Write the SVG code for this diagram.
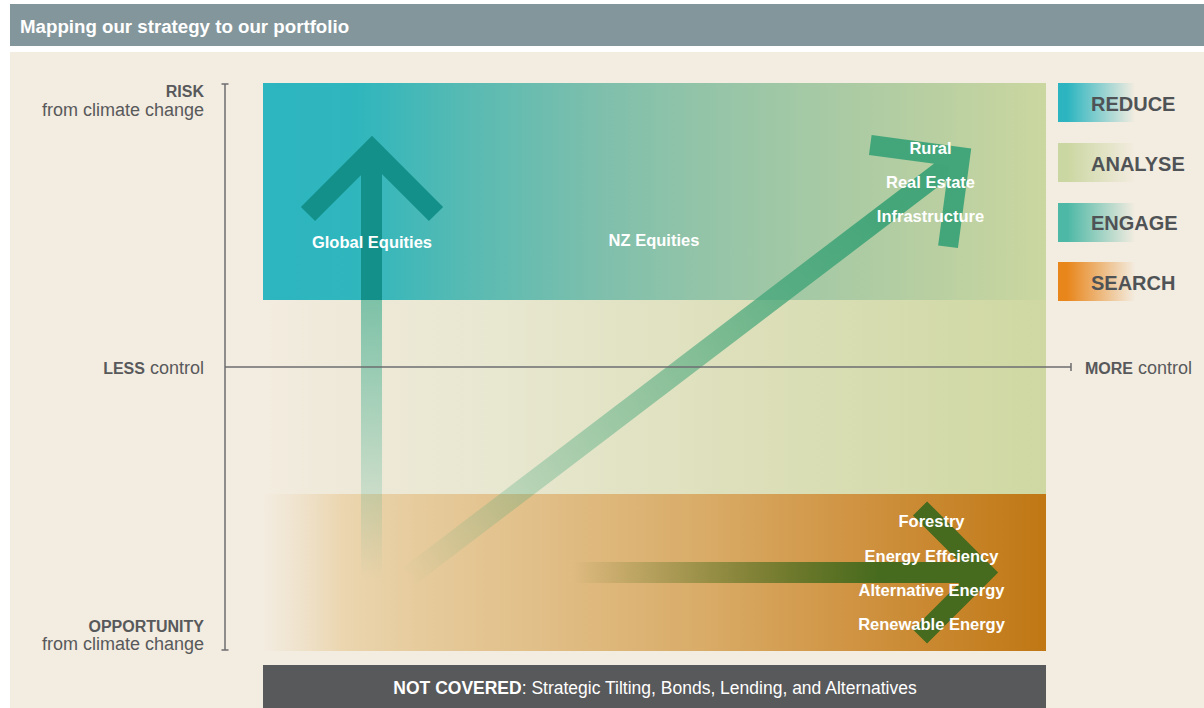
<svg xmlns="http://www.w3.org/2000/svg" width="1204" height="708" viewBox="0 0 1204 708">
  <style>
    .t { font-family: "Liberation Sans", Arial, sans-serif; }
    .w { fill: #ffffff; font-weight: bold; font-size: 16.5px; text-anchor: middle; }
    .lab { fill: #58595b; font-size: 18px; text-anchor: end; }
    .bl { font-weight: bold; font-size: 16px; }
    .b { font-weight: bold; }
    .leg { fill: #4f5356; font-weight: bold; font-size: 20px; }
    .axis { stroke: #6d6e70; stroke-width: 1.5; fill: none; }
  </style>
  <defs>
    <linearGradient id="gTop" x1="0" y1="0" x2="1" y2="0">
      <stop offset="0" stop-color="#2db5c0"/>
      <stop offset="0.12" stop-color="#2fb6bd"/>
      <stop offset="0.25" stop-color="#55bab3"/>
      <stop offset="0.43" stop-color="#7ebfac"/>
      <stop offset="0.56" stop-color="#93c4a8"/>
      <stop offset="0.86" stop-color="#b9cfa1"/>
      <stop offset="1" stop-color="#cbd7a0"/>
    </linearGradient>
    <linearGradient id="gMid" x1="0" y1="0" x2="1" y2="0">
      <stop offset="0" stop-color="#f3ece0"/>
      <stop offset="0.11" stop-color="#eee9d8"/>
      <stop offset="0.3" stop-color="#e8e7d0"/>
      <stop offset="0.63" stop-color="#dcdfb9"/>
      <stop offset="1" stop-color="#cfd8a2"/>
    </linearGradient>
    <linearGradient id="gBot" x1="0" y1="0" x2="1" y2="0">
      <stop offset="0" stop-color="#f3ece0"/>
      <stop offset="0.05" stop-color="#efe2cb"/>
      <stop offset="0.1" stop-color="#ebd6b0"/>
      <stop offset="0.2" stop-color="#e6cb9c"/>
      <stop offset="0.35" stop-color="#e1bf88"/>
      <stop offset="0.56" stop-color="#d9ac68"/>
      <stop offset="0.75" stop-color="#d09443"/>
      <stop offset="1" stop-color="#c07714"/>
    </linearGradient>
    <linearGradient id="lReduce" x1="0" y1="0" x2="1" y2="0">
      <stop offset="0" stop-color="#2cb5c0"/>
      <stop offset="0.12" stop-color="#2cb5c0"/>
      <stop offset="1" stop-color="#2cb5c0" stop-opacity="0"/>
    </linearGradient>
    <linearGradient id="lAnalyse" x1="0" y1="0" x2="1" y2="0">
      <stop offset="0" stop-color="#cbd7a2"/>
      <stop offset="0.12" stop-color="#cbd7a2"/>
      <stop offset="1" stop-color="#cbd7a2" stop-opacity="0"/>
    </linearGradient>
    <linearGradient id="lEngage" x1="0" y1="0" x2="1" y2="0">
      <stop offset="0" stop-color="#4db8a6"/>
      <stop offset="0.12" stop-color="#4db8a6"/>
      <stop offset="1" stop-color="#4db8a6" stop-opacity="0"/>
    </linearGradient>
    <linearGradient id="lSearch" x1="0" y1="0" x2="1" y2="0">
      <stop offset="0" stop-color="#e8861c"/>
      <stop offset="0.12" stop-color="#e8861c"/>
      <stop offset="1" stop-color="#e8861c" stop-opacity="0"/>
    </linearGradient>
    <linearGradient id="gShaftV" gradientUnits="userSpaceOnUse" x1="0" y1="300" x2="0" y2="580">
      <stop offset="0" stop-color="#25a383" stop-opacity="0.56"/>
      <stop offset="1" stop-color="#25a383" stop-opacity="0"/>
    </linearGradient>
    <linearGradient id="gDiag" gradientUnits="userSpaceOnUse" x1="408" y1="577" x2="960" y2="157">
      <stop offset="0" stop-color="#40a478" stop-opacity="0"/>
      <stop offset="0.2" stop-color="#40a478" stop-opacity="0.27"/>
      <stop offset="0.5" stop-color="#40a478" stop-opacity="0.55"/>
      <stop offset="0.85" stop-color="#40a478" stop-opacity="0.95"/>
      <stop offset="1" stop-color="#40a478" stop-opacity="1"/>
    </linearGradient>
    <linearGradient id="gHor" gradientUnits="userSpaceOnUse" x1="572" y1="0" x2="880" y2="0">
      <stop offset="0" stop-color="#466b1e" stop-opacity="0"/>
      <stop offset="1" stop-color="#466b1e" stop-opacity="1"/>
    </linearGradient>
    <polyline id="chev" points="-64,64 0,0 64,64" fill="none" stroke-width="20" stroke-linejoin="miter" stroke-linecap="butt"/>
  </defs>

  <!-- background -->
  <rect x="0" y="0" width="1204" height="708" fill="#ffffff"/>
  <rect x="10" y="4" width="1194" height="42" fill="#83969b"/>
  <rect x="10" y="52" width="1194" height="656" fill="#f3ece0"/>
  <text class="t b" x="20" y="33" fill="#ffffff" font-size="18.7">Mapping our strategy to our portfolio</text>

  <!-- zones -->
  <g id="zones">
    <rect x="263" y="83" width="783" height="217" fill="url(#gTop)"/>
    <rect x="263" y="300" width="783" height="194" fill="url(#gMid)"/>
    <rect x="263" y="494" width="783" height="157" fill="url(#gBot)"/>
  </g>

  <!-- connectors (arrows) -->
  <g id="connectors">
    <rect x="361" y="150" width="21" height="150" fill="#13908a"/>
    <rect x="361" y="300" width="21" height="280" fill="url(#gShaftV)"/>
    <use href="#chev" transform="translate(372,150)" stroke="#13908a"/>
    <line x1="408" y1="577" x2="956" y2="160" stroke="url(#gDiag)" stroke-width="21"/>
    <use href="#chev" transform="translate(960,157) rotate(52.6)" stroke="#43a67a"/>
    <rect x="572" y="562" width="412" height="21" fill="url(#gHor)"/>
    <use href="#chev" transform="translate(984,572.5) rotate(90)" stroke="#466b1e"/>
  </g>

  <!-- axes -->
  <g id="axes">
    <line class="axis" x1="225" y1="84" x2="225" y2="650"/>
    <line class="axis" x1="221.5" y1="84" x2="228.5" y2="84"/>
    <line class="axis" x1="221.5" y1="650" x2="228.5" y2="650"/>
    <line class="axis" x1="225" y1="367" x2="1071" y2="367"/>
    <line class="axis" x1="1071" y1="363" x2="1071" y2="371"/>
  </g>

  <g id="label-risk" class="t lab">
    <text x="204" y="97"><tspan class="bl">RISK</tspan></text>
    <text x="204" y="116">from climate change</text>
  </g>
  <g id="label-less" class="t lab">
    <text x="204" y="374"><tspan class="bl">LESS</tspan> control</text>
  </g>
  <g id="label-opportunity" class="t lab">
    <text x="204" y="632"><tspan class="bl">OPPORTUNITY</tspan></text>
    <text x="204" y="650">from climate change</text>
  </g>
  <g id="label-more" class="t">
    <text x="1085" y="374" fill="#58595b" font-size="18"><tspan class="bl">MORE</tspan> control</text>
  </g>

  <g id="node-global" class="t">
    <text class="w" x="372" y="248">Global Equities</text>
  </g>
  <g id="node-nz" class="t">
    <text class="w" x="654" y="246">NZ Equities</text>
  </g>
  <g id="node-real" class="t">
    <text class="w" x="930.5" y="154">Rural</text>
    <text class="w" x="930.5" y="188">Real Estate</text>
    <text class="w" x="930.5" y="222">Infrastructure</text>
  </g>
  <g id="node-energy" class="t">
    <text class="w" x="931.5" y="527">Forestry</text>
    <text class="w" x="931.5" y="562">Energy Effciency</text>
    <text class="w" x="931.5" y="596">Alternative Energy</text>
    <text class="w" x="931.5" y="630">Renewable Energy</text>
  </g>

  <g id="legend-reduce" class="t">
    <rect x="1058" y="83" width="77" height="39" fill="url(#lReduce)"/>
    <text class="leg" x="1091" y="111">REDUCE</text>
  </g>
  <g id="legend-analyse" class="t">
    <rect x="1058" y="143" width="77" height="39" fill="url(#lAnalyse)"/>
    <text class="leg" x="1091" y="171">ANALYSE</text>
  </g>
  <g id="legend-engage" class="t">
    <rect x="1058" y="203" width="77" height="39" fill="url(#lEngage)"/>
    <text class="leg" x="1091" y="230">ENGAGE</text>
  </g>
  <g id="legend-search" class="t">
    <rect x="1058" y="262" width="77" height="39" fill="url(#lSearch)"/>
    <text class="leg" x="1091" y="290">SEARCH</text>
  </g>

  <g id="node-notcovered" class="t">
    <rect x="263" y="665" width="783" height="43" fill="#58595b"/>
    <text x="655" y="694" fill="#ffffff" font-size="17.5" text-anchor="middle"><tspan class="b">NOT COVERED</tspan>: Strategic Tilting, Bonds, Lending, and Alternatives</text>
  </g>
</svg>
